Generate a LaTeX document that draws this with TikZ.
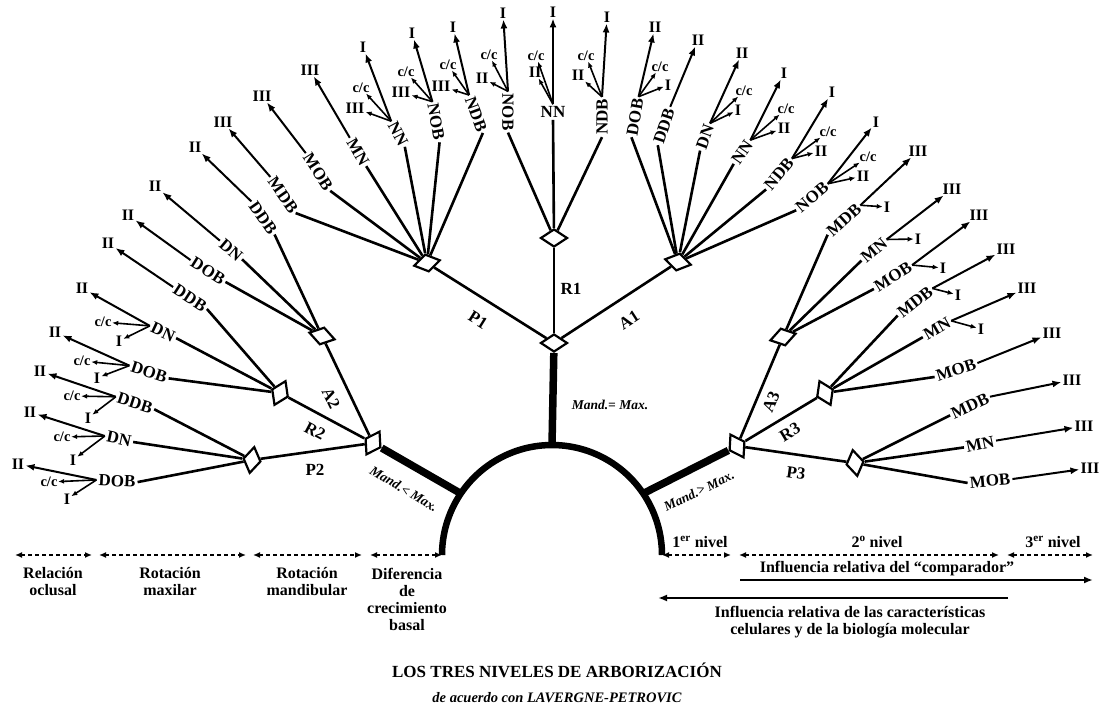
\documentclass[tikz,border=0pt]{standalone}
\usepackage{fontspec}
\setmainfont{Liberation Serif}
\usetikzlibrary{arrows.meta,shapes.geometric}
\newcommand\leafF{\fontsize{17}{17}\selectfont\bfseries}
\newcommand\numF{\fontsize{16}{16}\selectfont\bfseries}
\newcommand\ccF{\fontsize{14.5}{14.5}\selectfont\bfseries}
\newcommand\txtF{\fontsize{16}{17}\selectfont\bfseries}
\newcommand\mandF{\fontsize{13.5}{13.5}\selectfont\bfseries\itshape}
\tikzset{
  leaf/.style={font=\leafF, inner sep=2pt},
  num/.style={font=\numF, inner sep=1pt},
  cc/.style={font=\ccF, inner sep=0.5pt},
  blab/.style={font=\leafF, inner sep=1pt},
  mand/.style={font=\mandF, inner sep=1pt},
  txt/.style={font=\txtF, align=center, inner sep=0pt},
  lk/.style={line width=2.6pt},
  br/.style={line width=2.6pt},
  trunk/.style={line width=7.5pt},
  arr/.style={line width=2pt, -{Latex[length=9pt,width=7pt]}},
  sarr/.style={line width=1.6pt, -{Latex[length=6pt,width=5pt]}},
  dia/.style={diamond, draw, fill=white, line width=2.2pt, minimum width=27pt, minimum height=18pt, inner sep=0pt},
  dsh/.style={line width=1.8pt, dash pattern=on 4pt off 3pt, {Latex[length=7pt,width=6pt]}-{Latex[length=7pt,width=6pt]}},
  sol/.style={line width=1.8pt, -{Latex[length=9pt,width=7pt]}},
}
\begin{document}
\begin{tikzpicture}[x=1pt,y=-1pt]
\useasboundingbox (0,0) rectangle (1102,711);
% ---------- diamonds
\node[dia] (d0) at (554,343) {};
\node[dia] (dR1) at (554,238) {};
\node[dia, rotate=12] (dP1) at (427,263) {};
\node[dia, rotate=-12] (dA1) at (678,262) {};
\node[dia, rotate=60] (dL) at (373,443) {};
\node[dia, rotate=-15] (dA2) at (322,336) {};
\node[dia, rotate=65] (dR2) at (280,393) {};
\node[dia, rotate=80] (dP2) at (252,460) {};
\node[dia, rotate=-60] (dR) at (737,446) {};
\node[dia, rotate=15] (dA3) at (783,337) {};
\node[dia, rotate=-65] (dR3) at (825,393) {};
\node[dia, rotate=-80] (dP3) at (855,463) {};
% ---------- base arc and trunks
\draw[line width=6.5pt] plot[domain=180:0, samples=90] ({552+110*cos(\x)}, {555-110*sin(\x)});
\coordinate (aT) at (552,445);
\coordinate (aL) at (460.8,493.5);
\coordinate (aR) at (643.2,493.5);
\coordinate (aLe) at (442,555);
\coordinate (aRe) at (662,555);
\draw[trunk] (aT) -- (d0);
\draw[trunk] (aL) -- (dL);
\draw[trunk] (aR) -- (dR);
\node[mand] (m0) at (610,405) {Mand.= Max.};
\node[mand, rotate=-31] (mL) at (404,489) {Mand.< Max.};
\node[mand, rotate=26] (mR) at (699,491) {Mand.> Max.};
% ---------- branches
\draw[br] (d0) -- (dR1);
\draw[br] (d0) -- (dP1);
\draw[br] (d0) -- (dA1);
\draw[br] (dL) -- (dA2);
\draw[br] (dL) -- (dR2);
\draw[br] (dL) -- (dP2);
\draw[br] (dR) -- (dA3);
\draw[br] (dR) -- (dR3);
\draw[br] (dR) -- (dP3);
\node[blab, rotate=-32] (tP1) at (478,320) {P1};
\node[blab] (tR1) at (571,289) {R1};
\node[blab, rotate=33] (tA1) at (629,320) {A1};
\node[blab, rotate=-64] (tA2) at (331,398) {A2};
\node[blab, rotate=-28] (tR2) at (315,431) {R2};
\node[blab] (tP2) at (315,470) {P2};
\node[blab, rotate=67] (tA3) at (771,402) {A3};
\node[blab, rotate=31] (tR3) at (790,432) {R3};
\node[blab, rotate=-8] (tP3) at (796,473) {P3};
% ---------- group P1
\node[leaf, rotate=-55] (p1a) at (283,195) {MDB};
\node[num] (p1an) at (223,122) {III};
\draw[lk] (p1a.east) -- (dP1); \draw[arr] (p1a.west) -- (p1an);
\node[leaf, rotate=-57] (p1b) at (318,172) {MOB};
\node[num] (p1bn) at (262,96) {III};
\draw[lk] (p1b.east) -- (dP1); \draw[arr] (p1b.west) -- (p1bn);
\node[leaf, rotate=-60] (p1c) at (358,152) {MN};
\node[num] (p1cn) at (310,70) {III};
\draw[lk] (p1c.east) -- (dP1); \draw[arr] (p1c.west) -- (p1cn);
\node[leaf, rotate=-62] (p1d) at (398,134) {NN};
\node[num] (p1dn) at (363,47) {I};
\node[cc] (p1dc) at (361,88) {c/c};
\node[num] (p1dm) at (355,108) {III};
\draw[lk] (p1d.east) -- (dP1); \draw[arr] (p1d.west) -- (p1dn);
\draw[sarr] (p1d.west) -- (p1dc); \draw[sarr] (p1d.west) -- (p1dm);
\node[leaf, rotate=-80] (p1e) at (436,122) {NOB};
\node[num] (p1en) at (412,33) {I};
\node[cc] (p1ec) at (406,72) {c/c};
\node[num] (p1em) at (401,92) {III};
\draw[lk] (p1e.east) -- (dP1); \draw[arr] (p1e.west) -- (p1en);
\draw[sarr] (p1e.west) -- (p1ec); \draw[sarr] (p1e.west) -- (p1em);
\node[leaf, rotate=-70] (p1f) at (476,114) {NDB};
\node[num] (p1fn) at (453,27) {I};
\node[cc] (p1fc) at (448,65) {c/c};
\node[num] (p1fm) at (441,86) {III};
\draw[lk] (p1f.east) -- (dP1); \draw[arr] (p1f.west) -- (p1fn);
\draw[sarr] (p1f.west) -- (p1fc); \draw[sarr] (p1f.west) -- (p1fm);
% ---------- group R1
\node[leaf, rotate=-90] (r1a) at (508,112) {NOB};
\node[num] (r1an) at (503,13) {I};
\node[cc] (r1ac) at (489,55) {c/c};
\node[num] (r1am) at (482,78) {II};
\draw[lk] (r1a.east) -- (dR1); \draw[arr] (r1a.west) -- (r1an);
\draw[sarr] (r1a.west) -- (r1ac); \draw[sarr] (r1a.west) -- (r1am);
\node[leaf] (r1b) at (553,112) {NN};
\node[num] (r1bn) at (553,12) {I};
\node[cc] (r1bc) at (536,56) {c/c};
\node[num] (r1bm) at (535,72) {II};
\draw[lk] (r1b.south) -- (dR1); \draw[arr] (r1b.north) -- (r1bn);
\draw[sarr] (r1b.north) -- (r1bc); \draw[sarr] (r1b.north) -- (r1bm);
\node[leaf, rotate=90] (r1c) at (602,117) {NDB};
\node[num] (r1cn) at (607,17) {I};
\node[cc] (r1cc) at (586,56) {c/c};
\node[num] (r1cm) at (578,75) {II};
\draw[lk] (r1c.west) -- (dR1); \draw[arr] (r1c.east) -- (r1cn);
\draw[sarr] (r1c.east) -- (r1cc); \draw[sarr] (r1c.east) -- (r1cm);
% ---------- group A1
\node[leaf, rotate=80] (a1a) at (635,117) {DOB};
\node[num] (a1an) at (655,27) {II};
\node[cc] (a1ac) at (660,67) {c/c};
\node[num] (a1am) at (668,85) {I};
\draw[lk] (a1a.west) -- (dA1); \draw[arr] (a1a.east) -- (a1an);
\draw[sarr] (a1a.east) -- (a1ac); \draw[sarr] (a1a.east) -- (a1am);
\node[leaf, rotate=72] (a1b) at (664,126) {DDB};
\node[num] (a1bn) at (698,40) {II};
\draw[lk] (a1b.west) -- (dA1); \draw[arr] (a1b.east) -- (a1bn);
\node[leaf, rotate=70] (a1c) at (705,137) {DN};
\node[num] (a1cn) at (742,53) {II};
\node[cc] (a1cc) at (744,91) {c/c};
\node[num] (a1cm) at (738,110) {I};
\draw[lk] (a1c.west) -- (dA1); \draw[arr] (a1c.east) -- (a1cn);
\draw[sarr] (a1c.east) -- (a1cc); \draw[sarr] (a1c.east) -- (a1cm);
\node[leaf, rotate=55] (a1d) at (742,152) {NN};
\node[num] (a1dn) at (784,73) {I};
\node[cc] (a1dc) at (786,109) {c/c};
\node[num] (a1dm) at (784,128) {II};
\draw[lk] (a1d.west) -- (dA1); \draw[arr] (a1d.east) -- (a1dn);
\draw[sarr] (a1d.east) -- (a1dc); \draw[sarr] (a1d.east) -- (a1dm);
\node[leaf, rotate=50] (a1e) at (779,174) {NDB};
\node[num] (a1en) at (832,92) {I};
\node[cc] (a1ec) at (828,132) {c/c};
\node[num] (a1em) at (821,151) {II};
\draw[lk] (a1e.west) -- (dA1); \draw[arr] (a1e.east) -- (a1en);
\draw[sarr] (a1e.east) -- (a1ec); \draw[sarr] (a1e.east) -- (a1em);
\node[leaf, rotate=40] (a1f) at (812,197) {NOB};
\node[num] (a1fn) at (876,122) {I};
\node[cc] (a1fc) at (868,157) {c/c};
\node[num] (a1fm) at (863,176) {II};
\draw[lk] (a1f.west) -- (dA1); \draw[arr] (a1f.east) -- (a1fn);
\draw[sarr] (a1f.east) -- (a1fc); \draw[sarr] (a1f.east) -- (a1fm);
% ---------- group A3
\node[leaf, rotate=42] (a3a) at (844,220) {MDB};
\node[num] (a3an) at (918,151) {III};
\node[num] (a3am) at (887,207) {I};
\draw[lk] (a3a.west) -- (dA3); \draw[arr] (a3a.east) -- (a3an); \draw[sarr] (a3a.east) -- (a3am);
\node[leaf, rotate=40] (a3b) at (874,250) {MN};
\node[num] (a3bn) at (952,189) {III};
\node[num] (a3bm) at (918,239) {I};
\draw[lk] (a3b.west) -- (dA3); \draw[arr] (a3b.east) -- (a3bn); \draw[sarr] (a3b.east) -- (a3bm);
\node[leaf, rotate=32] (a3c) at (893,277) {MOB};
\node[num] (a3cn) at (979,215) {III};
\node[num] (a3cm) at (943,268) {I};
\draw[lk] (a3c.west) -- (dA3); \draw[arr] (a3c.east) -- (a3cn); \draw[sarr] (a3c.east) -- (a3cm);
% ---------- group R3
\node[leaf, rotate=38] (r3a) at (915,302) {MDB};
\node[num] (r3an) at (1006,249) {III};
\node[num] (r3am) at (958,295) {I};
\draw[lk] (r3a.west) -- (dR3); \draw[arr] (r3a.east) -- (r3an); \draw[sarr] (r3a.east) -- (r3am);
\node[leaf, rotate=30] (r3b) at (937,329) {MN};
\node[num] (r3bn) at (1027,288) {III};
\node[num] (r3bm) at (981,329) {I};
\draw[lk] (r3b.west) -- (dR3); \draw[arr] (r3b.east) -- (r3bn); \draw[sarr] (r3b.east) -- (r3bm);
\node[leaf, rotate=18] (r3c) at (956,370) {MOB};
\node[num] (r3cn) at (1052,333) {III};
\draw[lk] (r3c.west) -- (dR3); \draw[arr] (r3c.east) -- (r3cn);
% ---------- group P3
\node[leaf, rotate=25] (p3a) at (970,406) {MDB};
\node[num] (p3an) at (1072,380) {III};
\draw[lk] (p3a.west) -- (dP3); \draw[arr] (p3a.east) -- (p3an);
\node[leaf, rotate=12] (p3b) at (980,444) {MN};
\node[num] (p3bn) at (1084,426) {III};
\draw[lk] (p3b.west) -- (dP3); \draw[arr] (p3b.east) -- (p3bn);
\node[leaf, rotate=5] (p3c) at (990,481) {MOB};
\node[num] (p3cn) at (1090,468) {III};
\draw[lk] (p3c.west) -- (dP3); \draw[arr] (p3c.east) -- (p3cn);
% ---------- group A2
\node[leaf, rotate=-55] (a2a) at (263,218) {DDB};
\node[num] (a2an) at (195,147) {II};
\draw[lk] (a2a.east) -- (dA2); \draw[arr] (a2a.west) -- (a2an);
\node[leaf, rotate=-40] (a2b) at (231,250) {DN};
\node[num] (a2bn) at (155,186) {II};
\draw[lk] (a2b.east) -- (dA2); \draw[arr] (a2b.west) -- (a2bn);
\node[leaf, rotate=-32] (a2c) at (208,271) {DOB};
\node[num] (a2cn) at (128,215) {II};
\draw[lk] (a2c.east) -- (dA2); \draw[arr] (a2c.west) -- (a2cn);
% ---------- group R2
\node[leaf, rotate=-33] (r2a) at (190,298) {DDB};
\node[num] (r2an) at (108,243) {II};
\draw[lk] (r2a.east) -- (dR2); \draw[arr] (r2a.west) -- (r2an);
\node[leaf, rotate=-25] (r2b) at (163,332) {DN};
\node[num] (r2bn) at (82,288) {II};
\node[cc] (r2bc) at (103,322) {c/c};
\node[num] (r2bm) at (119,341) {I};
\draw[lk] (r2b.east) -- (dR2); \draw[arr] (r2b.west) -- (r2bn);
\draw[sarr] (r2b.west) -- (r2bc); \draw[sarr] (r2b.west) -- (r2bm);
\node[leaf, rotate=-18] (r2c) at (149,372) {DOB};
\node[num] (r2cn) at (55,332) {II};
\node[cc] (r2cc) at (82,361) {c/c};
\node[num] (r2cm) at (97,378) {I};
\draw[lk] (r2c.east) -- (dR2); \draw[arr] (r2c.west) -- (r2cn);
\draw[sarr] (r2c.west) -- (r2cc); \draw[sarr] (r2c.west) -- (r2cm);
% ---------- group P2
\node[leaf, rotate=-18] (p2a) at (135,403) {DDB};
\node[num] (p2an) at (40,371) {II};
\node[cc] (p2ac) at (72,396) {c/c};
\node[num] (p2am) at (88,418) {I};
\draw[lk] (p2a.east) -- (dP2); \draw[arr] (p2a.west) -- (p2an);
\draw[sarr] (p2a.west) -- (p2ac); \draw[sarr] (p2a.west) -- (p2am);
\node[leaf, rotate=-12] (p2b) at (119,439) {DN};
\node[num] (p2bn) at (30,412) {II};
\node[cc] (p2bc) at (62,437) {c/c};
\node[num] (p2bm) at (73,460) {I};
\draw[lk] (p2b.east) -- (dP2); \draw[arr] (p2b.west) -- (p2bn);
\draw[sarr] (p2b.west) -- (p2bc); \draw[sarr] (p2b.west) -- (p2bm);
\node[leaf, rotate=-3] (p2c) at (117,481) {DOB};
\node[num] (p2cn) at (18,464) {II};
\node[cc] (p2cc) at (49,482) {c/c};
\node[num] (p2cm) at (67,499) {I};
\draw[lk] (p2c.east) -- (dP2); \draw[arr] (p2c.west) -- (p2cn);
\draw[sarr] (p2c.west) -- (p2cc); \draw[sarr] (p2c.west) -- (p2cm);
% ---------- bottom scales
\coordinate (b0) at (15,555); \coordinate (b1) at (92,555);
\coordinate (b2) at (99,555); \coordinate (b3) at (246,555);
\coordinate (b4) at (253,555); \coordinate (b5) at (362,555);
\coordinate (b6) at (370,555);
\draw[dsh] (b0) -- (b1);
\draw[dsh] (b2) -- (b3);
\draw[dsh] (b4) -- (b5);
\draw[dsh] (b6) -- (aLe);
\coordinate (c1) at (731,555); \coordinate (c2) at (739,555);
\coordinate (c3) at (999,555); \coordinate (c4) at (1007,555);
\coordinate (c5) at (1093,555);
\draw[dsh] (aRe) -- (c1);
\draw[dsh] (c2) -- (c3);
\draw[dsh] (c4) -- (c5);
\coordinate (s1) at (740,580); \coordinate (s2) at (1093,580);
\coordinate (s3) at (1008,598); \coordinate (s4) at (658,598);
\draw[sol] (s1) -- (s2);
\draw[sol] (s3) -- (s4);
\node[txt] (tx1) at (53,582) {Relación\\oclusal};
\node[txt] (tx2) at (170,582) {Rotación\\maxilar};
\node[txt] (tx3) at (307,582) {Rotación\\mandibular};
\node[txt] (tx4) at (407,599) {Diferencia\\de\\crecimiento\\basal};
\node[txt] (lv1) at (700,542) {1\textsuperscript{er} nivel};
\node[txt] (lv2) at (877,542) {2\textsuperscript{o} nivel};
\node[txt] (lv3) at (1053,542) {3\textsuperscript{er} nivel};
\node[txt] (inf1) at (887,569) {Influencia relativa del “comparador”};
\node[txt] (inf2) at (850,622) {Influencia relativa de las características\\celulares y de la biología molecular};
\node[font=\fontsize{17}{17}\selectfont\bfseries, inner sep=0pt] (title) at (557,670) {LOS TRES NIVELES DE ARBORIZACIÓN};
\node[font=\fontsize{14.5}{14.5}\selectfont\bfseries\itshape, inner sep=0pt] (sub) at (557,698) {de acuerdo con LAVERGNE-PETROVIC};
\end{tikzpicture}
\end{document}
